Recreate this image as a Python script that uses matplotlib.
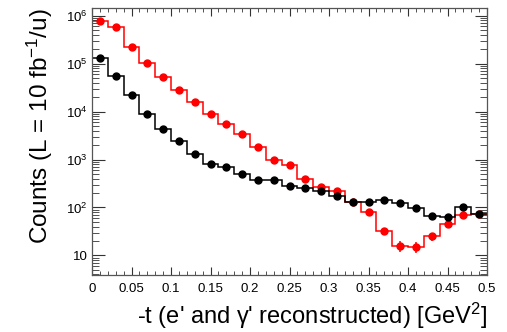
import numpy as np
import matplotlib
matplotlib.use('Agg')
import matplotlib.pyplot as plt
from matplotlib.ticker import MultipleLocator, LogLocator, FixedLocator, FuncFormatter

plt.rcParams['font.family'] = ['Liberation Sans', 'DejaVu Sans']
plt.rcParams['mathtext.fontset'] = 'custom'
plt.rcParams['mathtext.rm'] = 'Liberation Sans'
plt.rcParams['mathtext.it'] = 'Liberation Sans:italic'

# bin edges in -t (GeV^2)
edges = np.linspace(0, 0.5, 26)

# counts
red_counts = [794000, 575000, 224000, 102000, 52500, 28200, 16200, 9100, 5500, 3390,
              1860, 1000, 776, 398, 269, 219, 129, 81, 32, 16,
              15, 25, 46, 69, 74]
black_counts = [129000, 56200, 21900, 8700, 4270, 2400, 1320, 813, 692, 490,
                380, 372, 282, 257, 219, 174, 132, 132, 141, 126,
                98, 65, 62, 100, 72]

xlabel = "-t (e' and \u03b3' reconstructed) [GeV$^{2}$]"
ylabel = "Counts (L = 10 fb$^{-1}$/u)"

centers = 0.5 * (edges[:-1] + edges[1:])

fig = plt.figure(figsize=(5.07, 3.32), dpi=100)
ax = fig.add_axes([0.1815, 0.1717, 0.7791, 0.8043])

for counts, col in [(red_counts, '#ff0000'), (black_counts, 'black')]:
    counts = np.array(counts, dtype=float)
    ax.stairs(counts, edges, baseline=None, color=col, lw=1.1)
    ax.errorbar(centers, counts, yerr=np.sqrt(counts), fmt='o', color=col,
                ms=5, elinewidth=1.1, capsize=0)

ax.set_yscale('log')
ax.set_xlim(0, 0.5)
ax.set_ylim(3.9, 1.45e6)

ax.xaxis.set_major_locator(MultipleLocator(0.05))
ax.xaxis.set_minor_locator(MultipleLocator(0.01))
ax.xaxis.set_major_formatter(FuncFormatter(lambda v, p: '0' if abs(v) < 1e-9 else ('%g' % round(v, 3))))

ax.yaxis.set_major_locator(FixedLocator([10, 1e2, 1e3, 1e4, 1e5, 1e6]))
ax.yaxis.set_minor_locator(LogLocator(base=10, subs=np.arange(2, 10)))
ax.yaxis.set_major_formatter(FuncFormatter(
    lambda v, p: '10' if abs(v - 10) < 1e-6 else '$10^{%d}$' % round(np.log10(v))))

ax.tick_params(axis='both', which='both', direction='in', top=True, right=True,
               labelsize=9.5, color='#333333')
ax.tick_params(axis='x', which='major', length=6, pad=6)
ax.tick_params(axis='x', which='minor', length=3)
ax.tick_params(axis='y', which='major', length=9, pad=3)
ax.tick_params(axis='y', which='minor', length=5)
for s in ax.spines.values():
    s.set_color('#555555')
    s.set_linewidth(0.9)

ax.set_xlabel(xlabel, fontsize=17, loc='right', labelpad=4)
ax.set_ylabel(ylabel, fontsize=17.5, loc='top', labelpad=8)

fig.savefig('out.png', dpi=100)
